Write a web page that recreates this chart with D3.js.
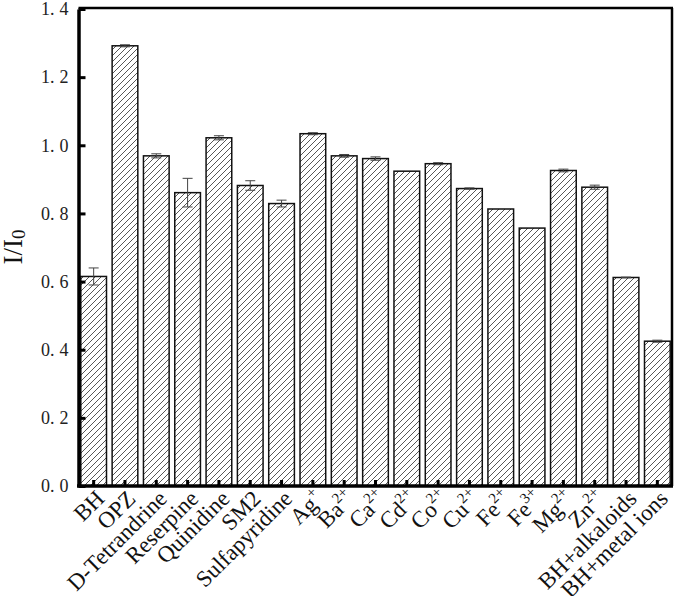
<!DOCTYPE html>
<html><head><meta charset="utf-8">
<script src="https://cdn.jsdelivr.net/npm/d3@7/dist/d3.min.js"></script>
<style>body{margin:0;background:#fff}</style>
</head><body>
<svg id="c" width="685" height="596"></svg>
<script>
const categories = ["BH","OPZ","D-Tetrandrine","Reserpine","Quinidine","SM2","Sulfapyridine","Ag","Ba","Ca","Cd","Co","Cu","Fe","Fe","Mg","Zn","BH+alkaloids","BH+metal ions"];
const superscripts = ["","","","","","","","+","2+","2+","2+","2+","2+","2+","3+","2+","2+","",""];
const values = [0.615,1.292,0.969,0.861,1.022,0.882,0.829,1.034,0.969,0.961,0.924,0.946,0.873,0.813,0.757,0.926,0.877,0.612,0.425];
const errors = [0.025,0.003,0.006,0.042,0.006,0.014,0.01,0.003,0.004,0.005,0.0,0.003,0.002,0.0,0.0,0.004,0.006,0.001,0.003];
const yTicks = [0.0,0.2,0.4,0.6,0.8,1.0,1.2,1.4];

const svg = d3.select("#c");
const L=78.5, R=672, T=9, B=486;
const ids = categories.map((c,i)=>i);
const x = d3.scaleBand().domain(ids).range([78,673]).paddingInner(0.18).paddingOuter(0.09);
const y = d3.scaleLinear().domain([0,1.4]).range([B,T]);

const defs = svg.append("defs");
const pat = defs.append("pattern").attr("id","hatch").attr("patternUnits","userSpaceOnUse")
  .attr("width",6).attr("height",6);
pat.append("rect").attr("width",6).attr("height",6).attr("fill","#fff");
pat.append("path").attr("d","M-1,7 L7,-1 M-4,4 L4,-4 M2,10 L10,2").attr("stroke","#444").attr("stroke-width",0.9);

// bars
svg.append("g").selectAll("rect").data(values).join("rect")
  .attr("x",(d,i)=>x(i)).attr("width",x.bandwidth())
  .attr("y",d=>y(d)).attr("height",d=>B-y(d))
  .attr("fill","url(#hatch)").attr("stroke","#111").attr("stroke-width",1.5);

// error bars
const eg = svg.append("g").attr("stroke","#444").attr("stroke-width",1);
values.forEach((v,i)=>{
  const cx = x(i)+x.bandwidth()/2, e = errors[i];
  if(e<=0) return;
  eg.append("line").attr("x1",cx).attr("x2",cx).attr("y1",y(v+e)).attr("y2",y(v-e));
  eg.append("line").attr("x1",cx-5).attr("x2",cx+5).attr("y1",y(v+e)).attr("y2",y(v+e));
  eg.append("line").attr("x1",cx-5).attr("x2",cx+5).attr("y1",y(v-e)).attr("y2",y(v-e));
});

// frame
svg.append("line").attr("x1",L).attr("x2",R+1).attr("y1",T-1).attr("y2",T-1).attr("stroke","#000").attr("stroke-width",2.5);
svg.append("line").attr("x1",R).attr("x2",R).attr("y1",T-1).attr("y2",B).attr("stroke","#000").attr("stroke-width",2.5);

// y axis
const yAxis = d3.axisLeft(y).tickValues(yTicks).tickFormat(d3.format(".1f")).tickSizeInner(-7).tickSizeOuter(0).tickPadding(10);
const ya = svg.append("g").attr("transform",`translate(${L},0)`).call(yAxis);
ya.select(".domain").attr("stroke","#000").attr("stroke-width",3.5);
ya.selectAll(".tick line").attr("stroke","#000").attr("stroke-width",3);
ya.selectAll(".tick text").each(function(d){
  const s = d3.format(".1f")(d).split(".");
  const t = d3.select(this).text(null).attr("font-family","Liberation Serif, serif").attr("font-size",18).attr("fill","#222");
  t.append("tspan").text(s[0]+".");
  t.append("tspan").attr("dx",5).text(s[1]);
});

// x axis
const xAxis = d3.axisBottom(x).tickSizeInner(-6).tickSizeOuter(0).tickFormat("");
const xa = svg.append("g").attr("transform",`translate(0,${B})`).call(xAxis);
xa.select(".domain").attr("d",`M${L-1.5},0H${R+1}`).attr("stroke","#000").attr("stroke-width",3.5);
xa.selectAll(".tick line").attr("stroke","#000").attr("stroke-width",3);

// x labels
const lg = svg.append("g");
ids.forEach(i=>{
  const cx = x(i)+x.bandwidth()/2;
  const t = lg.append("text").attr("transform",`translate(${cx+12},${B+14}) rotate(-45)`)
    .attr("text-anchor","end").attr("font-family","Liberation Serif, serif").attr("font-size",23).attr("fill","#111");
  t.append("tspan").text(categories[i]);
  if(superscripts[i]) t.append("tspan").attr("font-size",15).attr("dy",-10).text(superscripts[i]);
});

// y title
const yt = svg.append("text").attr("transform","translate(22,247) rotate(-90)").attr("text-anchor","middle")
  .attr("font-family","Liberation Serif, serif").attr("font-size",27).attr("fill","#111");
yt.append("tspan").text("I/I");
yt.append("tspan").attr("font-size",19).attr("dy",3).text("0");
</script>
</body></html>
